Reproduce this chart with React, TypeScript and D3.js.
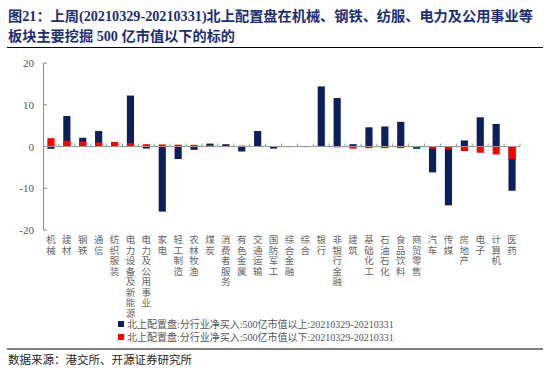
import React from "react";
import * as d3 from "d3";

const categories = ["机械","建材","钢铁","通信","纺织服装","电力设备及新能源","电力及公用事业","家电","轻工制造","农林牧渔","煤炭","消费者服务","有色金属","交通运输","国防军工","综合金融","综合","银行","非银行金融","建筑","基础化工","石油石化","食品饮料","商贸零售","汽车","传媒","房地产","电子","计算机","医药"];
const above500 = [-0.55,7.3,2.1,3.7,1.0,12.2,-0.5,-15.6,-3.0,-0.8,0.7,0.55,-1.2,3.7,-0.5,0.0,0.0,14.4,11.6,0.55,4.6,4.8,5.9,-0.55,-6.2,-14.1,1.45,7.0,5.4,-10.6];
const below500 = [2.0,1.36,1.2,1.0,1.1,0.8,0.55,0.5,0.45,0.4,0.3,0.2,0.2,0.05,0.1,-0.15,-0.15,-0.1,-0.2,-0.5,-0.4,-0.4,-0.4,-0.3,-0.55,-0.7,-1.1,-1.5,-1.9,-3.0];
const yTicks = [20,10,0,-10,-20];
const legendLabels = ["北上配置盘:分行业净买入:500亿市值以上:20210329-20210331","北上配置盘:分行业净买入:500亿市值以下:20210329-20210331"];
const titleLines = ["图21：上周(20210329-20210331)北上配置盘在机械、钢铁、纺服、电力及公用事业等","板块主要挖掘 500 亿市值以下的标的"];
const sourceText = "数据来源：港交所、开源证券研究所";

const NAVY = "#0B1F5C";
const RED = "#FF0000";
const FONT = "'Liberation Serif', 'Noto Sans CJK SC', serif";

export default function App() {
  const W = 550, H = 375;
  const x = d3.scaleBand<string>().domain(categories).range([43, 520]).paddingInner(0.55).paddingOuter(0.275);
  const xb = d3.scaleBand<string>().domain(categories).range([43, 520]);
  const y = d3.scaleLinear().domain([-20, 20]).range([230, 63]);
  const y0 = y(0);
  return (
    <svg width={W} height={H} style={{ position: "absolute", left: 0, top: 0, background: "#fff" }}>
      {titleLines.map((t, i) => (
        <text key={i} x={8} y={21 + i * 19.5} fontSize={14.2} fontWeight="bold" fill="#1C2E72" fontFamily={FONT}>{t}</text>
      ))}
      <line x1={7} x2={543} y1={47.5} y2={47.5} stroke="#000" strokeWidth={1.2} />
      {/* y axis */}
      <line x1={43.5} x2={43.5} y1={y(20)} y2={y(-20)} stroke="#888" strokeWidth={1} />
      {yTicks.map((t) => (
        <g key={t}>
          <line x1={43.5} x2={47} y1={y(t)} y2={y(t)} stroke="#888" />
          <text x={34} y={y(t) + 4} fontSize={11} textAnchor="end" fill="#555" fontFamily={FONT}>{t}</text>
        </g>
      ))}
      {/* bars */}
      {categories.map((c, i) => {
        const v = above500[i];
        return <rect key={"n" + c} x={x(c)} width={x.bandwidth()} y={Math.min(y(v), y0)} height={Math.abs(y(v) - y0)} fill={NAVY} />;
      })}
      {categories.map((c, i) => {
        const v = below500[i];
        return <rect key={"r" + c} x={x(c)} width={x.bandwidth()} y={Math.min(y(v), y0)} height={Math.abs(y(v) - y0)} fill={RED} />;
      })}
      {/* x axis */}
      <line x1={43.5} x2={520} y1={y0} y2={y0} stroke="#999" strokeWidth={1.2} />
      {categories.map((c) => (
        <line key={"t" + c} x1={(xb(c) as number) + xb.bandwidth()} x2={(xb(c) as number) + xb.bandwidth()} y1={y0} y2={y0 - 3} stroke="#999" />
      ))}
      {categories.map((c) => (
        <text key={"l" + c} x={(xb(c) as number) + xb.bandwidth() / 2} y={235} fontSize={9.5} fill="#666"
          fontFamily="'Noto Sans CJK SC', sans-serif" letterSpacing={1}
          style={{ writingMode: "vertical-rl", textOrientation: "upright" } as any}>{c}</text>
      ))}
      {/* legend */}
      {legendLabels.map((l, i) => (
        <g key={l}>
          <rect x={118} y={321 + i * 13} width={6} height={6} fill={i === 0 ? NAVY : RED} />
          <text x={127} y={328 + i * 13} fontSize={10} fill="#555" fontFamily={FONT}>{l}</text>
        </g>
      ))}
      <line x1={7} x2={543} y1={349} y2={349} stroke="#000" strokeWidth={1.2} />
      <text x={8} y={364} fontSize={11.5} fill="#222" fontFamily={FONT}>{sourceText}</text>
    </svg>
  );
}
